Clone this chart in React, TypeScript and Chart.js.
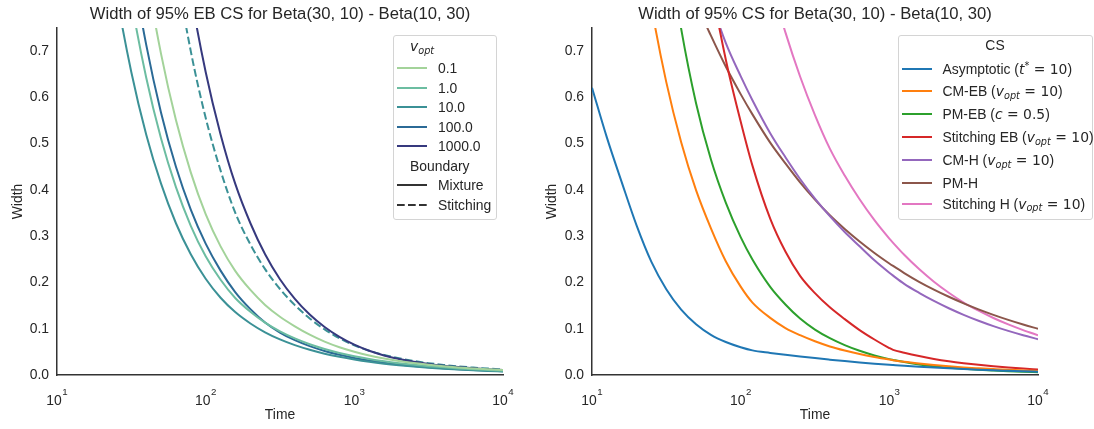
import React, { useEffect, useRef } from "react";
import { Chart, registerables } from "chart.js";

Chart.register(...registerables);

// ---------------- Left panel: width of EB CS by v_opt ----------------
const leftTimes = [10, 12.6, 15.8, 20, 25.1, 31.6, 39.8, 50.1, 63.1, 79.4, 100, 126, 158, 200, 251, 316, 398, 501, 631, 794, 1000, 1259, 1585, 1995, 2512, 3162, 3981, 5012, 6310, 7943, 10000];
const vOptLabels = ["0.1", "1.0", "10.0", "100.0", "1000.0"];
const mixtureV01 = [3.48, 2.76, 2.19, 1.74, 1.385, 1.1, 0.874, 0.694, 0.551, 0.438, 0.3477, 0.278, 0.2251, 0.1838, 0.1515, 0.126, 0.1053, 0.0872, 0.0722, 0.06, 0.0502, 0.0421, 0.0356, 0.0302, 0.0258, 0.0221, 0.019, 0.0164, 0.0142, 0.0123, 0.0107];
const mixtureV1 = [2.56, 2.03, 1.62, 1.28, 1.02, 0.81, 0.643, 0.511, 0.406, 0.3225, 0.2566, 0.2058, 0.1665, 0.1366, 0.1131, 0.0943, 0.079, 0.0664, 0.0562, 0.0477, 0.0407, 0.0348, 0.0298, 0.0256, 0.022, 0.019, 0.0165, 0.0143, 0.0124, 0.0108, 0.0094];
const mixtureV10 = [2.07, 1.65, 1.31, 1.04, 0.825, 0.655, 0.52, 0.4135, 0.328, 0.261, 0.208, 0.167, 0.136, 0.1114, 0.0923, 0.0769, 0.0646, 0.0545, 0.0461, 0.0393, 0.0335, 0.0286, 0.0245, 0.0211, 0.0182, 0.0157, 0.01355, 0.01175, 0.0102, 0.0089, 0.0078];
const mixtureV100 = [2.84, 2.26, 1.79, 1.42, 1.13, 0.898, 0.714, 0.567, 0.45, 0.3576, 0.284, 0.2256, 0.1792, 0.1423, 0.1136, 0.0917, 0.0752, 0.0623, 0.0519, 0.0436, 0.0368, 0.0313, 0.0267, 0.0228, 0.0196, 0.0168, 0.0145, 0.0125, 0.0108, 0.0094, 0.0081];
const mixtureV1000 = [6.55, 5.2, 4.13, 3.28, 2.61, 2.07, 1.65, 1.31, 1.04, 0.825, 0.655, 0.52, 0.4135, 0.328, 0.261, 0.207, 0.1646, 0.1307, 0.1038, 0.0825, 0.0655, 0.0524, 0.0423, 0.0346, 0.0286, 0.0239, 0.0201, 0.0171, 0.0146, 0.0125, 0.0107];
const stitchingV10 = [5.57, 4.42, 3.51, 2.79, 2.21, 1.76, 1.4, 1.11, 0.882, 0.7, 0.556, 0.4418, 0.351, 0.282, 0.2288, 0.1859, 0.1511, 0.1223, 0.0985, 0.0793, 0.0642, 0.0524, 0.0433, 0.0361, 0.0303, 0.0256, 0.0218, 0.0186, 0.016, 0.0138, 0.012];
const boundaryLabels = ["Mixture", "Stitching"];

// ---------------- Right panel: width of different CS ----------------
const rightTimes = [10, 12.6, 15.8, 20, 25.1, 31.6, 39.8, 50.1, 63.1, 79.4, 100, 120, 158, 200, 251, 316, 398, 501, 631, 794, 1000, 1060, 1259, 1585, 1995, 2512, 3162, 3981, 5012, 6310, 7943, 10000];
const asymptotic = [0.621, 0.513, 0.418, 0.3223, 0.2445, 0.1855, 0.1413, 0.1097, 0.0868, 0.0713, 0.06, 0.0532, 0.0478, 0.0437, 0.04, 0.0365, 0.0332, 0.03, 0.0271, 0.0245, 0.02215, 0.0216, 0.02, 0.018, 0.0161, 0.0144, 0.0129, 0.0115, 0.0102, 0.0091, 0.008, 0.0071];
const cmEB = [2.0, 1.59, 1.263, 1.003, 0.797, 0.633, 0.503, 0.3995, 0.317, 0.246, 0.191, 0.1565, 0.1235, 0.1015, 0.086, 0.0729, 0.0617, 0.0529, 0.0453, 0.0389, 0.0333, 0.032, 0.0286, 0.0249, 0.0217, 0.0189, 0.0164, 0.0145, 0.0128, 0.0112, 0.0099, 0.0087];
const pmEB = [3.19, 2.51, 1.97, 1.55, 1.21, 0.953, 0.748, 0.5875, 0.4657, 0.3725, 0.2979, 0.2497, 0.1906, 0.1525, 0.122, 0.0982, 0.0796, 0.0646, 0.0523, 0.0423, 0.0343, 0.0326, 0.0279, 0.0229, 0.0189, 0.0158, 0.0133, 0.0112, 0.0096, 0.0082, 0.0071, 0.0062];
const stitchingEB = [4.88, 3.92, 3.15, 2.53, 2.035, 1.636, 1.314, 1.056, 0.849, 0.682, 0.548, 0.4525, 0.338, 0.2668, 0.2144, 0.177, 0.1463, 0.1208, 0.0971, 0.0767, 0.0582, 0.0543, 0.0481, 0.0409, 0.0348, 0.0297, 0.0255, 0.0219, 0.0188, 0.0162, 0.0139, 0.0119];
const cmH = [2.46, 2.14, 1.86, 1.62, 1.41, 1.23, 1.07, 0.933, 0.812, 0.7177, 0.646, 0.594, 0.5227, 0.4706, 0.4236, 0.3813, 0.3433, 0.309, 0.2782, 0.2479, 0.221, 0.2147, 0.197, 0.1776, 0.1601, 0.1443, 0.1301, 0.1173, 0.1057, 0.0953, 0.0859, 0.0774];
const pmH = [1.767, 1.558, 1.381, 1.228, 1.098, 0.987, 0.889, 0.805, 0.7334, 0.6667, 0.6071, 0.5633, 0.5023, 0.4574, 0.4164, 0.3791, 0.3452, 0.3156, 0.2885, 0.2638, 0.2411, 0.2357, 0.2204, 0.2015, 0.1846, 0.1691, 0.1549, 0.1419, 0.13, 0.1191, 0.1091, 0.1];
const stitchingH = [6.76, 5.55, 4.57, 3.79, 3.15, 2.63, 2.21, 1.865, 1.58, 1.346, 1.151, 1.02, 0.8536, 0.7406, 0.6452, 0.5618, 0.4893, 0.4311, 0.3798, 0.3346, 0.2948, 0.2856, 0.2598, 0.2289, 0.2016, 0.1777, 0.1565, 0.1389, 0.1232, 0.1093, 0.097, 0.086];
const csNames = ["Asymptotic", "CM-EB", "PM-EB", "Stitching EB", "CM-H", "PM-H", "Stitching H"];

// ---------------- Axes ----------------
const xTickValues = [10, 100, 1000, 10000];
const xTickBase = "10";
const xTickExponents = ["1", "2", "3", "4"];
const yTickValues = [0, 0.1, 0.2, 0.3, 0.4, 0.5, 0.6, 0.7];
const yTickLabels = ["0.0", "0.1", "0.2", "0.3", "0.4", "0.5", "0.6", "0.7"];
const leftTitle = "Width of 95% EB CS for Beta(30, 10) - Beta(10, 30)";
const rightTitle = "Width of 95% CS for Beta(30, 10) - Beta(10, 30)";

// ---------------- Styles ----------------
const FONT = '"Liberation Sans", Arial, Helvetica, sans-serif';
const MATH = '"DejaVu Sans", sans-serif';
const TEXT = "#262626";
const AXIS = "#333333";
const crestColors = ["#a3d39a", "#6cbda1", "#3b9196", "#2b6a96", "#36397e"];
const tabColors = ["#1f77b4", "#ff7f0e", "#2ca02c", "#d62728", "#9467bd", "#8c564b", "#e377c2"];
const DASH = [7.7, 3.3];
const FS = 13.9;

const toPoints = (times: number[], vals: number[]) => times.map((t, i) => ({ x: t, y: vals[i] }));

const lineDs = (times: number[], vals: number[], color: string, dash?: number[]) => ({
  data: toPoints(times, vals),
  borderColor: color,
  backgroundColor: color,
  borderWidth: 2,
  borderDash: dash || [],
  pointRadius: 0,
  fill: false,
  cubicInterpolationMode: "monotone" as const,
});

const leftDatasets = [
  lineDs(leftTimes, mixtureV01, crestColors[0]),
  lineDs(leftTimes, mixtureV1, crestColors[1]),
  lineDs(leftTimes, mixtureV10, crestColors[2]),
  lineDs(leftTimes, mixtureV100, crestColors[3]),
  lineDs(leftTimes, mixtureV1000, crestColors[4]),
  lineDs(leftTimes, stitchingV10, crestColors[2], DASH),
];

const rightDatasets = [
  lineDs(rightTimes, asymptotic, tabColors[0]),
  lineDs(rightTimes, cmEB, tabColors[1]),
  lineDs(rightTimes, pmEB, tabColors[2]),
  lineDs(rightTimes, stitchingEB, tabColors[3]),
  lineDs(rightTimes, cmH, tabColors[4]),
  lineDs(rightTimes, pmH, tabColors[5]),
  lineDs(rightTimes, stitchingH, tabColors[6]),
];

const xPowerLabels = {
  id: "xPowerLabels",
  afterDraw(chart: any) {
    const { ctx, chartArea } = chart;
    const x = chart.scales.x;
    ctx.save();
    ctx.fillStyle = TEXT;
    ctx.textAlign = "left";
    ctx.textBaseline = "alphabetic";
    xTickValues.forEach((v, i) => {
      const px = x.getPixelForValue(v);
      ctx.font = `${FS}px ${FONT}`;
      const bw = ctx.measureText(xTickBase).width;
      ctx.font = `${FS * 0.7}px ${FONT}`;
      const ew = ctx.measureText(xTickExponents[i]).width;
      const start = px - (bw + ew + 0.5) / 2;
      ctx.font = `${FS}px ${FONT}`;
      ctx.fillText(xTickBase, start, chartArea.bottom + 29.5);
      ctx.font = `${FS * 0.7}px ${FONT}`;
      ctx.fillText(xTickExponents[i], start + bw + 0.5, chartArea.bottom + 19.5);
    });
    ctx.restore();
  },
};

function buildOptions(yTitlePad: number): any {
  return {
    animation: false,
    responsive: false,
    maintainAspectRatio: false,
    devicePixelRatio: 1,
    layout: { padding: { top: 28, right: 44, left: 0, bottom: 0 } },
    plugins: { legend: { display: false }, title: { display: false }, tooltip: { enabled: false } },
    scales: {
      x: {
        type: "logarithmic",
        min: 10,
        max: 10000,
        bounds: "data",
        grid: { display: false, drawTicks: false },
        border: { display: true, color: AXIS, width: 1.5 },
        ticks: { display: false },
        afterBuildTicks: (s: any) => {
          s.ticks = xTickValues.map((v) => ({ value: v }));
        },
        afterFit: (s: any) => {
          s.height = 54;
          s.paddingLeft = 0;
          s.paddingRight = 0;
        },
        title: {
          display: true,
          text: "Time",
          color: TEXT,
          font: { family: FONT, size: FS },
          padding: { top: 0, bottom: 5 },
        },
      },
      y: {
        min: 0,
        max: 0.75,
        bounds: "data",
        grid: { display: false, drawTicks: false },
        border: { display: true, color: AXIS, width: 1.5 },
        ticks: {
          color: TEXT,
          font: { family: FONT, size: FS },
          padding: 8,
          callback: (_v: any, i: number) => yTickLabels[i],
        },
        afterBuildTicks: (s: any) => {
          s.ticks = yTickValues.map((v) => ({ value: v }));
        },
        afterFit: (s: any) => {
          s.width = 57;
          s.paddingTop = 0;
          s.paddingBottom = 0;
        },
        title: {
          display: true,
          text: "Width",
          color: TEXT,
          font: { family: FONT, size: FS },
          padding: { top: yTitlePad, bottom: 0 },
        },
      },
    },
  };
}

function ChartPanel({ offsetLeft, datasets, yTitlePad }: any) {
  const ref = useRef<HTMLCanvasElement>(null);
  useEffect(() => {
    const chart = new Chart(ref.current as HTMLCanvasElement, {
      type: "line",
      data: { datasets },
      options: buildOptions(yTitlePad),
      plugins: [xPowerLabels],
    } as any);
    return () => chart.destroy();
  }, []);
  return (
    <canvas
      ref={ref}
      width={547}
      height={429}
      style={{ position: "absolute", left: offsetLeft, top: 0, width: 547, height: 429 }}
    />
  );
}

const mItal: any = { fontFamily: MATH, fontStyle: "italic" };
const mUp: any = { fontFamily: MATH };
const subS: any = { fontFamily: MATH, fontStyle: "italic", fontSize: "0.7em", position: "relative", top: "0.3em" };
const supS: any = { fontFamily: MATH, fontSize: "0.7em", position: "relative", top: "-0.5em" };

const VOpt = () => (
  <>
    <span style={mItal}>v</span>
    <span style={subS}>opt</span>
  </>
);

function Handle({ x, y, color, dashed }: any) {
  return (
    <svg width={30} height={6} style={{ position: "absolute", left: x, top: y - 3, overflow: "visible" }}>
      <line x1={0} y1={3} x2={30} y2={3} stroke={color} strokeWidth={2} strokeDasharray={dashed ? DASH.join(" ") : undefined} />
    </svg>
  );
}

function Label({ x, y, children, center }: any) {
  const style: any = {
    position: "absolute",
    top: y - 9,
    lineHeight: "18px",
    fontSize: FS,
    whiteSpace: "nowrap",
    color: TEXT,
  };
  if (center) {
    style.left = x - 60;
    style.width = 120;
    style.textAlign = "center";
  } else {
    style.left = x;
  }
  return <div style={style}>{children}</div>;
}

const boxStyle = (left: number, top: number, width: number, height: number): any => ({
  position: "absolute",
  left,
  top,
  width,
  height,
  boxSizing: "border-box",
  border: "1px solid #d4d4d4",
  borderRadius: 3,
  background: "rgba(255,255,255,0.85)",
});

function LeftLegend() {
  const rows = [68.3, 87.5, 107, 126.5, 146];
  const bRows = [185, 204.5];
  return (
    <>
      <div style={boxStyle(393, 35, 104, 185)} />
      <Label x={410} y={46}>
        <VOpt />
      </Label>
      {vOptLabels.map((lab, i) => (
        <React.Fragment key={lab}>
          <Handle x={397} y={rows[i]} color={crestColors[i]} />
          <Label x={438} y={rows[i]}>{lab}</Label>
        </React.Fragment>
      ))}
      <Label x={410} y={165.5}>Boundary</Label>
      {boundaryLabels.map((lab, i) => (
        <React.Fragment key={lab}>
          <Handle x={397} y={bRows[i]} color="#333333" dashed={i === 1} />
          <Label x={438} y={bRows[i]}>{lab}</Label>
        </React.Fragment>
      ))}
    </>
  );
}

function csLabel(i: number) {
  const name = csNames[i];
  if (i === 0)
    return (
      <>
        {name} (<span style={mItal}>t</span>
        <span style={supS}>*</span>
        <span style={mUp}> = 10</span>)
      </>
    );
  if (i === 2)
    return (
      <>
        {name} (<span style={mItal}>c</span>
        <span style={mUp}> = 0.5</span>)
      </>
    );
  if (i === 5) return <>{name}</>;
  return (
    <>
      {name} (<VOpt />
      <span style={mUp}> = 10</span>)
    </>
  );
}

function RightLegend() {
  const rows = [69.3, 91, 114, 136.7, 160, 183.3, 203.5];
  return (
    <>
      <div style={boxStyle(898, 35, 195, 185)} />
      <Label x={995} y={45} center>
        CS
      </Label>
      {csNames.map((n, i) => (
        <React.Fragment key={n}>
          <Handle x={902} y={rows[i]} color={tabColors[i]} />
          <Label x={942.5} y={rows[i]}>{csLabel(i)}</Label>
        </React.Fragment>
      ))}
    </>
  );
}

const titleStyle = (left: number): any => ({
  position: "absolute",
  left,
  width: 446,
  top: 4,
  lineHeight: "20px",
  fontSize: 16.67,
  textAlign: "center",
  color: TEXT,
  whiteSpace: "nowrap",
});

export default function App() {
  return (
    <div
      style={{
        position: "absolute",
        left: 0,
        top: 0,
        width: 1094,
        height: 429,
        background: "#ffffff",
        overflow: "hidden",
        fontFamily: FONT,
        color: TEXT,
      }}
    >
      <ChartPanel offsetLeft={0} datasets={leftDatasets} yTitlePad={10} />
      <ChartPanel offsetLeft={535} datasets={rightDatasets} yTitlePad={8.5} />
      <div style={titleStyle(57)}>{leftTitle}</div>
      <div style={titleStyle(592)}>{rightTitle}</div>
      <LeftLegend />
      <RightLegend />
    </div>
  );
}
